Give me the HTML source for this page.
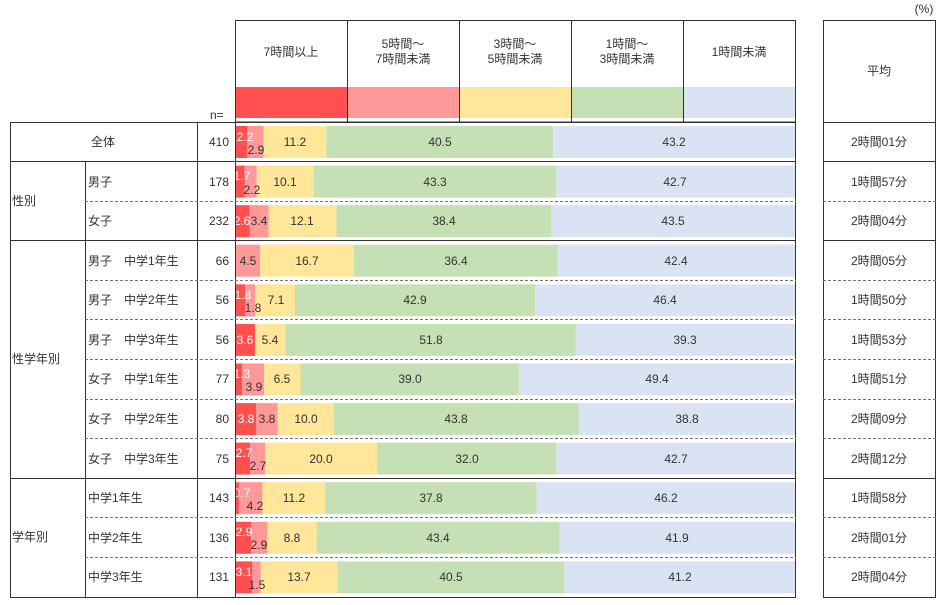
<!DOCTYPE html>
<html><head><meta charset="utf-8"><style>
body{margin:0;background:#fff}
svg{display:block;font-family:"Liberation Sans","Noto Sans CJK JP",sans-serif;font-size:12px;fill:#333}
.w{fill:#fff}
</style></head><body>
<svg width="942" height="605" viewBox="0 0 942 605" xmlns="http://www.w3.org/2000/svg">
<g text-anchor="middle">
<text x="924" y="13">(%)</text>
<text x="291" y="56">7時間以上</text>
<text x="403" y="48">5時間～</text><text x="403" y="63">7時間未満</text>
<text x="515" y="48">3時間～</text><text x="515" y="63">5時間未満</text>
<text x="627" y="48">1時間～</text><text x="627" y="63">3時間未満</text>
<text x="739" y="56">1時間未満</text>
<text x="879" y="75">平均</text>
</g>
<rect x="235" y="87" width="112" height="31" fill="#FF5050"/>
<rect x="347" y="87" width="112" height="31" fill="#FF9999"/>
<rect x="459" y="87" width="112" height="31" fill="#FFE699"/>
<rect x="571" y="87" width="112" height="31" fill="#C5E0B4"/>
<rect x="683" y="87" width="112" height="31" fill="#DAE3F3"/>
<text x="210" y="119">n=</text>

<g stroke="none">
<g transform="translate(0,126)"><rect x="235" width="12.3" height="32" fill="#FF5050"/><rect x="247.3" width="16.3" height="32" fill="#FF9999"/><rect x="263.6" width="62.7" height="32" fill="#FFE699"/><rect x="326.3" width="226.8" height="32" fill="#C5E0B4"/><rect x="553.1" width="241.9" height="32" fill="#DAE3F3"/></g>
<g transform="translate(0,165.6)"><rect x="235" width="9.5" height="32" fill="#FF5050"/><rect x="244.5" width="12.3" height="32" fill="#FF9999"/><rect x="256.8" width="56.6" height="32" fill="#FFE699"/><rect x="313.4" width="242.5" height="32" fill="#C5E0B4"/><rect x="555.9" width="239.1" height="32" fill="#DAE3F3"/></g>
<g transform="translate(0,205.2)"><rect x="235" width="14.6" height="32" fill="#FF5050"/><rect x="249.6" width="19" height="32" fill="#FF9999"/><rect x="268.6" width="67.8" height="32" fill="#FFE699"/><rect x="336.4" width="215" height="32" fill="#C5E0B4"/><rect x="551.4" width="243.6" height="32" fill="#DAE3F3"/></g>
<g transform="translate(0,244.7)"><rect x="235" width="25.2" height="32" fill="#FF9999"/><rect x="260.2" width="93.5" height="32" fill="#FFE699"/><rect x="353.7" width="203.8" height="32" fill="#C5E0B4"/><rect x="557.5" width="237.5" height="32" fill="#DAE3F3"/></g>
<g transform="translate(0,284.3)"><rect x="235" width="10.1" height="32" fill="#FF5050"/><rect x="245.1" width="10.1" height="32" fill="#FF9999"/><rect x="255.2" width="39.8" height="32" fill="#FFE699"/><rect x="295" width="240.2" height="32" fill="#C5E0B4"/><rect x="535.2" width="259.8" height="32" fill="#DAE3F3"/></g>
<g transform="translate(0,323.9)"><rect x="235" width="20.2" height="32" fill="#FF5050"/><rect x="255.2" width="30.2" height="32" fill="#FFE699"/><rect x="285.4" width="290.1" height="32" fill="#C5E0B4"/><rect x="575.5" width="219.5" height="32" fill="#DAE3F3"/></g>
<g transform="translate(0,363.5)"><rect x="235" width="7.3" height="32" fill="#FF5050"/><rect x="242.3" width="21.8" height="32" fill="#FF9999"/><rect x="264.1" width="36.4" height="32" fill="#FFE699"/><rect x="300.5" width="218.4" height="32" fill="#C5E0B4"/><rect x="518.9" width="276.1" height="32" fill="#DAE3F3"/></g>
<g transform="translate(0,403.1)"><rect x="235" width="21.3" height="32" fill="#FF5050"/><rect x="256.3" width="21.3" height="32" fill="#FF9999"/><rect x="277.6" width="56" height="32" fill="#FFE699"/><rect x="333.6" width="245.3" height="32" fill="#C5E0B4"/><rect x="578.9" width="216.1" height="32" fill="#DAE3F3"/></g>
<g transform="translate(0,442.6)"><rect x="235" width="15.1" height="32" fill="#FF5050"/><rect x="250.1" width="15.1" height="32" fill="#FF9999"/><rect x="265.2" width="112" height="32" fill="#FFE699"/><rect x="377.2" width="179.2" height="32" fill="#C5E0B4"/><rect x="556.4" width="238.6" height="32" fill="#DAE3F3"/></g>
<g transform="translate(0,482.2)"><rect x="235" width="3.9" height="32" fill="#FF5050"/><rect x="238.9" width="23.5" height="32" fill="#FF9999"/><rect x="262.4" width="62.7" height="32" fill="#FFE699"/><rect x="325.1" width="211.7" height="32" fill="#C5E0B4"/><rect x="536.8" width="258.2" height="32" fill="#DAE3F3"/></g>
<g transform="translate(0,521.8)"><rect x="235" width="16.2" height="32" fill="#FF5050"/><rect x="251.2" width="16.2" height="32" fill="#FF9999"/><rect x="267.4" width="49.3" height="32" fill="#FFE699"/><rect x="316.7" width="243" height="32" fill="#C5E0B4"/><rect x="559.7" width="235.3" height="32" fill="#DAE3F3"/></g>
<g transform="translate(0,561.4)"><rect x="235" width="17.4" height="32" fill="#FF5050"/><rect x="252.4" width="8.4" height="32" fill="#FF9999"/><rect x="260.8" width="76.7" height="32" fill="#FFE699"/><rect x="337.5" width="226.8" height="32" fill="#C5E0B4"/><rect x="564.3" width="230.7" height="32" fill="#DAE3F3"/></g>
</g>

<g text-anchor="middle">
<text class="w" x="245" y="141">2.2</text><text x="256" y="154">2.9</text><text x="295" y="146">11.2</text><text x="440" y="146">40.5</text><text x="674" y="146">43.2</text>
<text class="w" x="242" y="180">1.7</text><text x="252" y="194">2.2</text><text x="285" y="186">10.1</text><text x="435" y="186">43.3</text><text x="675" y="186">42.7</text>
<text class="w" x="242" y="225">2.6</text><text x="259" y="225">3.4</text><text x="302" y="225">12.1</text><text x="444" y="225">38.4</text><text x="673" y="225">43.5</text>
<text x="248" y="265">4.5</text><text x="307" y="265">16.7</text><text x="456" y="265">36.4</text><text x="676" y="265">42.4</text>
<text class="w" x="243" y="299">1.8</text><text x="253" y="312">1.8</text><text x="276" y="304">7.1</text><text x="415" y="304">42.9</text><text x="665" y="304">46.4</text>
<text class="w" x="245" y="344">3.6</text><text x="270" y="344">5.4</text><text x="431" y="344">51.8</text><text x="685" y="344">39.3</text>
<text class="w" x="242" y="378">1.3</text><text x="254" y="391">3.9</text><text x="282" y="383">6.5</text><text x="410" y="383">39.0</text><text x="657" y="383">49.4</text>
<text class="w" x="246" y="423">3.8</text><text x="267" y="423">3.8</text><text x="306" y="423">10.0</text><text x="456" y="423">43.8</text><text x="687" y="423">38.8</text>
<text class="w" x="244" y="457">2.7</text><text x="258" y="470">2.7</text><text x="321" y="463">20.0</text><text x="467" y="463">32.0</text><text x="676" y="463">42.7</text>
<text class="w" x="242" y="497">0.7</text><text x="255" y="510">4.2</text><text x="294" y="502">11.2</text><text x="431" y="502">37.8</text><text x="666" y="502">46.2</text>
<text class="w" x="244" y="536">2.9</text><text x="259" y="549">2.9</text><text x="292" y="542">8.8</text><text x="438" y="542">43.4</text><text x="677" y="542">41.9</text>
<text class="w" x="244" y="576">3.1</text><text x="257" y="589">1.5</text><text x="299" y="581">13.7</text><text x="451" y="581">40.5</text><text x="680" y="581">41.2</text>
</g>

<text x="103" y="146" text-anchor="middle">全体</text>
<text x="12" y="205">性別</text>
<text x="12" y="363">性学年別</text>
<text x="12" y="541">学年別</text>
<text x="88" y="186">男子</text><text x="88" y="225">女子</text>
<text x="88" y="265">男子　中学1年生</text><text x="88" y="304">男子　中学2年生</text><text x="88" y="344">男子　中学3年生</text>
<text x="88" y="383">女子　中学1年生</text><text x="88" y="423">女子　中学2年生</text><text x="88" y="463">女子　中学3年生</text>
<text x="88" y="502">中学1年生</text><text x="88" y="542">中学2年生</text><text x="88" y="581">中学3年生</text>
<g text-anchor="end">
<text x="229" y="146">410</text><text x="229" y="186">178</text><text x="229" y="225">232</text><text x="229" y="265">66</text><text x="229" y="304">56</text><text x="229" y="344">56</text><text x="229" y="383">77</text><text x="229" y="423">80</text><text x="229" y="463">75</text><text x="229" y="502">143</text><text x="229" y="542">136</text><text x="229" y="581">131</text>
</g>
<g text-anchor="middle">
<text x="879" y="146">2時間01分</text><text x="879" y="186">1時間57分</text><text x="879" y="225">2時間04分</text><text x="879" y="265">2時間05分</text><text x="879" y="304">1時間50分</text><text x="879" y="344">1時間53分</text><text x="879" y="383">1時間51分</text><text x="879" y="423">2時間09分</text><text x="879" y="463">2時間12分</text><text x="879" y="502">1時間58分</text><text x="879" y="542">2時間01分</text><text x="879" y="581">2時間04分</text>
</g>

<g stroke="#333" stroke-width="1" fill="none" shape-rendering="crispEdges">
<rect x="235.5" y="20.5" width="560" height="101.5"/>
<path d="M347.5 20V122M459.5 20V122M571.5 20V122M683.5 20V122"/>
<rect x="823.5" y="20.5" width="112" height="577"/>
<path d="M823 122.5H936"/>
<path d="M10 122.5H796M10 161.5H796M10 240.5H796M10 478.5H796M10 597.5H796"/>
<path d="M823 161.5H936M823 240.5H936M823 478.5H936"/>
<path d="M10.5 122V598M85.5 161V598M197.5 122V598M235.5 122V598M795.5 122V598"/>
</g>
<g stroke="#777" stroke-width="1" stroke-dasharray="3,2" shape-rendering="crispEdges">
<path d="M85 201.5H796M85 280.5H796M85 319.5H796M85 359.5H796M85 399.5H796M85 438.5H796M85 517.5H796M85 557.5H796"/>
<path d="M823 201.5H936M823 280.5H936M823 319.5H936M823 359.5H936M823 399.5H936M823 438.5H936M823 517.5H936M823 557.5H936"/>
</g>
</svg>
</body></html>
